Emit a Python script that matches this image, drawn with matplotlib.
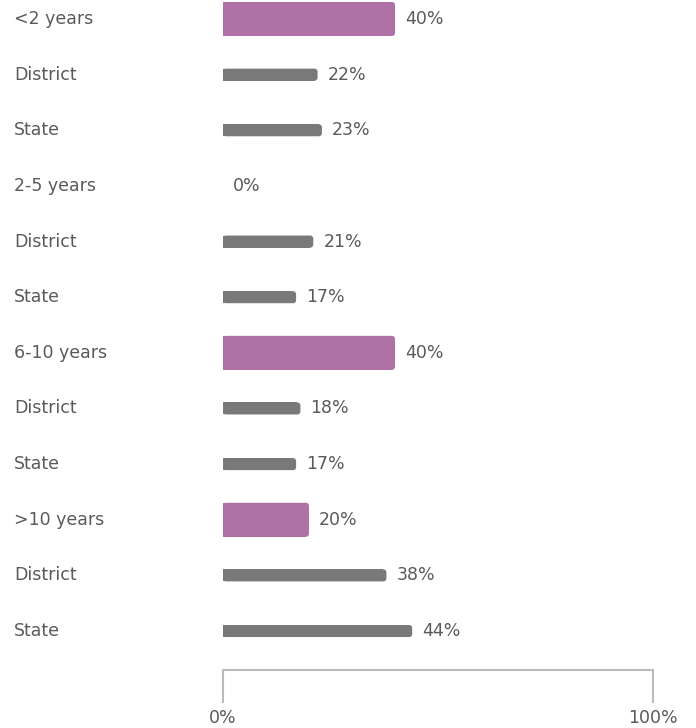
import matplotlib
matplotlib.use("Agg")
import matplotlib.pyplot as plt
from matplotlib.patches import FancyBboxPatch
from matplotlib.transforms import blended_transform_factory, offset_copy

labels = ["<2 years", "District", "State",
          "2-5 years", "District", "State",
          "6-10 years", "District", "State",
          ">10 years", "District", "State"]
values = [40, 22, 23, 0, 21, 17, 40, 18, 17, 20, 38, 44]
is_main = [True, False, False, True, False, False, True, False, False, True, False, False]
tick_labels = ["0%", "100%"]
tick_values = [0, 100]

PURPLE = "#B072A6"
GREY = "#797979"
TEXT = "#5A5A5A"
FONT = ["DejaVu Sans"]
FS = 12.5

W, H = 696, 728
fig = plt.figure(figsize=(W / 100, H / 100), dpi=100)
ax_top_px, ax_bot_px = 0, 660
ax_w_px = 430
ax = fig.add_axes([223 / W, (H - ax_bot_px) / H, ax_w_px / W, (ax_bot_px - ax_top_px) / H])
row0, step = 19, 55.64
ax.set_xlim(0, 100)
ax.set_ylim((ax_bot_px - row0) / step, (ax_top_px - row0) / step)
ax.axis("off")

px_x = 100 / ax_w_px      # x data units per pixel
px_y = 1 / step           # y data units per pixel
r = 3 * px_x
aspect = px_y / px_x

for y, (lab, v, m) in enumerate(zip(labels, values, is_main)):
    h = 34 * px_y if m else 12 * px_y
    c = PURPLE if m else GREY
    if v > 0:
        ax.barh(y, v - r, height=h, color=c, linewidth=0)
        ax.add_patch(FancyBboxPatch((0, y - h / 2), v, h,
                                    boxstyle=f"round,pad=0,rounding_size={r}",
                                    mutation_aspect=aspect, facecolor=c,
                                    edgecolor="none", clip_on=False))
    t = offset_copy(ax.transData, fig=fig, x=10, y=0, units="dots")
    ax.text(v, y, f"{v}%", transform=t, ha="left", va="center",
            fontsize=FS, color=TEXT, family=FONT)
    tl = blended_transform_factory(fig.transFigure, ax.transData)
    ax.text(14 / W, y, lab, transform=tl, ha="left", va="center",
            fontsize=FS, color=TEXT, family=FONT)

# bracket axis
bt = blended_transform_factory(ax.transData, fig.transFigure)
ytop = (H - 670) / H
ybot = (H - 702) / H
ax.plot([tick_values[0], tick_values[0], tick_values[-1], tick_values[-1]],
        [ybot, ytop, ytop, ybot], transform=bt, color="#BBBBBB", lw=1.5,
        clip_on=False, solid_joinstyle="miter")
for tv, tl_ in zip(tick_values, tick_labels):
    ax.text(tv, (H - 718) / H, tl_, transform=bt, ha="center", va="center",
            fontsize=FS, color=TEXT, family=FONT)

fig.savefig("out.png", dpi=100, facecolor="white")
